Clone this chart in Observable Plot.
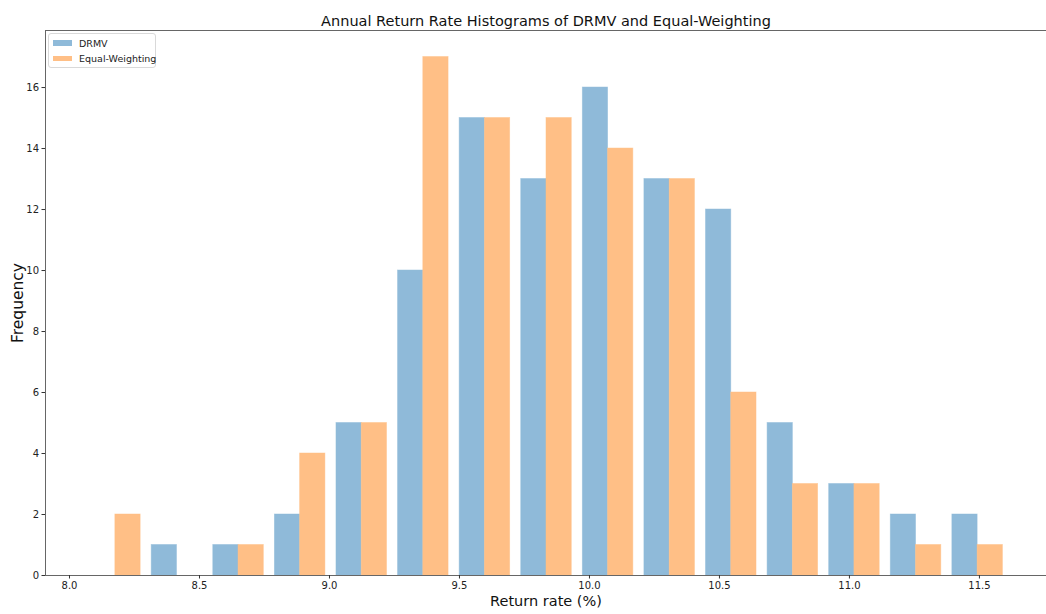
<!DOCTYPE html>
<html><head><meta charset="utf-8">
<script src="https://cdn.jsdelivr.net/npm/d3@7"></script>
<script src="https://cdn.jsdelivr.net/npm/@observablehq/plot@0.6"></script>
<style>
body{margin:0;background:#fff;font-family:"DejaVu Sans",sans-serif;overflow:hidden}
#wrap{position:relative;width:1046px;height:614px}
#wrap svg{display:block}
.legend{position:absolute;left:48px;top:33px;width:108px;height:35px;border:1px solid #d9d9d9;border-radius:3px;background:rgba(255,255,255,0.85);font-size:9.5px;color:#222;box-sizing:border-box;white-space:nowrap}
.legend .row{position:absolute;left:4px;height:12px;display:flex;align-items:center;white-space:nowrap}
.legend .sw{width:19px;height:5.5px;margin-right:7px;flex:none}
</style></head><body><div id="wrap"></div><script>
const title = "Annual Return Rate Histograms of DRMV and Equal-Weighting";
const xLabel = "Return rate (%)";
const yLabel = "Frequency";
const seriesNames = ["DRMV", "Equal-Weighting"];
const seriesColors = ["#8fbad9", "#ffbf86"];
const binEdges = [8.058, 8.2949, 8.5318, 8.7687, 9.0056, 9.2425, 9.4794, 9.7163, 9.9532, 10.1901, 10.427, 10.6639, 10.9008, 11.1377, 11.3746, 11.6115];
const drmvCounts = [0, 1, 1, 2, 5, 10, 15, 13, 16, 13, 12, 5, 3, 2, 2];
const ewCounts   = [2, 0, 1, 4, 5, 17, 15, 15, 14, 13, 6, 3, 3, 1, 1];
const xTicks = [8.0, 8.5, 9.0, 9.5, 10.0, 10.5, 11.0, 11.5];
const yTicks = [0, 2, 4, 6, 8, 10, 12, 14, 16];
const xDomain = [7.9077, 11.758];
const yDomain = [0, 17.87];

const rows = [];
for (let i = 0; i < drmvCounts.length; i++) {
  const a = binEdges[i], w = binEdges[i + 1] - binEdges[i];
  rows.push({series: seriesNames[0], x1: a + 0.09 * w, x2: a + 0.5 * w, y: drmvCounts[i]});
  rows.push({series: seriesNames[1], x1: a + 0.5 * w, x2: a + 0.91 * w, y: ewCounts[i]});
}

const chart = Plot.plot({
  width: 1046, height: 614,
  marginTop: 30, marginBottom: 39, marginLeft: 45, marginRight: 0,
  style: {fontFamily: "DejaVu Sans", background: "#fff", color: "#222"},
  x: {domain: xDomain},
  y: {domain: yDomain},
  color: {domain: seriesNames, range: seriesColors},
  marks: [
    Plot.rectY(rows, {x1: "x1", x2: "x2", y: "y", fill: "series", stroke: "series", strokeOpacity: 0.6, strokeWidth: 0.8}),
    Plot.ruleY([yDomain[0]], {stroke: "#666", strokeWidth: 1}),
    Plot.ruleY([yDomain[1]], {stroke: "#666", strokeWidth: 1}),
    Plot.ruleX([xDomain[0]], {stroke: "#666", strokeWidth: 1}),
    Plot.axisX({ticks: xTicks, tickFormat: d => d.toFixed(1), tickSize: 3.5, tickPadding: 3, fontSize: 10, label: null, stroke: "#333"}),
    Plot.axisY({ticks: yTicks, tickFormat: d => String(d), tickSize: 3.5, tickPadding: 3, fontSize: 10, label: null, stroke: "#333"}),
    Plot.text([title], {frameAnchor: "top", dy: -14.5, fontSize: 14.5, fill: "#111"}),
    Plot.text([xLabel], {frameAnchor: "bottom", dy: 30, fontSize: 14.5, fill: "#111"}),
    Plot.text([yLabel], {frameAnchor: "left", textAnchor: "middle", dx: -27, rotate: -90, fontSize: 15.5, fill: "#111"})
  ]
});
const wrap = document.getElementById("wrap");
wrap.appendChild(chart);

const leg = document.createElement("div");
leg.className = "legend";
seriesNames.forEach((n, i) => {
  const r = document.createElement("div");
  r.className = "row";
  r.style.top = (3 + i * 15.5) + "px";
  const s = document.createElement("span");
  s.className = "sw";
  s.style.background = seriesColors[i];
  const t = document.createElement("span");
  t.textContent = n;
  r.appendChild(s); r.appendChild(t);
  leg.appendChild(r);
});
wrap.appendChild(leg);
</script></body></html>
